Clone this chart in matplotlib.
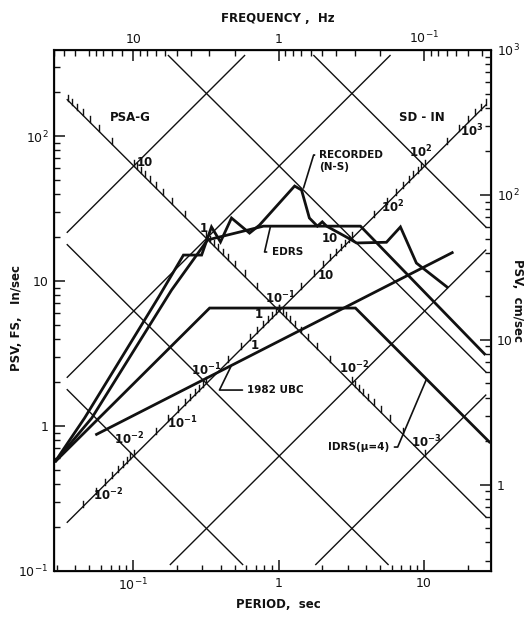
import numpy as np
import matplotlib
matplotlib.use("Agg")
import matplotlib.pyplot as plt

plt.rcParams["font.family"] = ["DejaVu Sans"]
plt.rcParams["mathtext.default"] = "regular"

G = 386.09          # gravity, in/s^2
IN_TO_CM = 2.54

# Pseudo-velocity spectra: period (s) and PSV (in/s)
recorded_T = [0.029, 0.0464, 0.150, 0.222, 0.296, 0.346, 0.399, 0.475, 0.632, 0.740,
              1.29, 1.44, 1.63, 1.85, 2.0, 2.14, 2.93, 3.44, 5.52, 6.89, 8.87, 14.7]
recorded_V = [0.565, 1.135, 7.76, 15.1, 15.1, 23.6, 18.6, 27.2, 21.4, 24.3,
              45.2, 42.4, 27.2, 23.9, 25.6, 23.9, 20.1, 18.3, 18.5, 23.6, 13.3, 8.95]

edrs_T = [0.029, 0.052, 0.184, 0.325, 0.789, 3.66, 26.5]
edrs_V = [0.565, 1.135, 8.67, 19.2, 23.9, 23.9, 3.09]

idrs_T = [0.029, 0.336, 3.38, 28.6]
idrs_V = [0.565, 6.51, 6.51, 0.764]

ubc_T = [0.055, 15.95]
ubc_V = [0.867, 15.85]

# Tripartite grid levels
accel_levels_g = [1e-3, 1e-2, 1e-1, 1.0, 10.0]
accel_labels = ["$10^{-3}$", "$10^{-2}$", "$10^{-1}$", "1", "10"]
disp_levels_in = [1e-2, 1e-1, 1.0, 10.0, 100.0]
disp_labels_in = ["$10^{-2}$", "$10^{-1}$", "1", "10", "$10^{2}$"]
disp_levels_cm = [1e-2, 1e-1, 1.0, 10.0, 100.0, 1000.0]
disp_labels_cm = ["$10^{-2}$", "$10^{-1}$", "1", "10", "$10^{2}$", "$10^{3}$"]

# Axis tick labels
period_ticks = [0.1, 1, 10]
period_labels = ["$10^{-1}$", "1", "10"]
psv_ticks = [0.1, 1, 10, 100]
psv_labels = ["$10^{-1}$", "1", "10", "$10^{2}$"]
freq_ticks = [10, 1, 0.1]
freq_labels = ["10", "1", "$10^{-1}$"]
freq_minor = [35, 30, 25, 20, 18, 16, 14, 12,
              9, 8, 7, 6, 5, 4, 3, 2,
              0.9, 0.8, 0.7, 0.6, 0.5, 0.4, 0.3, 0.2,
              0.09, 0.08, 0.07, 0.06, 0.05, 0.04]
cm_ticks = [1, 10, 100, 1000]
cm_labels = ["1", "10", "$10^{2}$", "$10^{3}$"]

XLIM = (0.0286, 28.9)
YLIM = (0.1, 392.0)
BOX = (0.035, 26.8, 0.11, 362.0)   # extent of the diagonal grid

W, H = 524, 624
fig = plt.figure(figsize=(W / 100, H / 100), dpi=100)
ax = fig.add_axes([54 / W, 53 / H, 437 / W, 521 / H])
ax.set_xscale("log")
ax.set_yscale("log")
ax.set_xlim(*XLIM)
ax.set_ylim(*YLIM)

TH, GL, FR = 2.0, 1.0, 1.5
ink = "#111111"


def clip_line(slope, c):
    """Endpoints (log T) of logV = slope*logT + c inside BOX."""
    lt0, lt1 = np.log10(BOX[0]), np.log10(BOX[1])
    lv0, lv1 = np.log10(BOX[2]), np.log10(BOX[3])
    if slope > 0:
        a, b = max(lt0, lv0 - c), min(lt1, lv1 - c)
    else:
        a, b = max(lt0, c - lv1), min(lt1, c - lv0)
    return a, b


def accel_line(a):
    c = np.log10(a * G / (2 * np.pi))
    lo, hi = clip_line(1, c)
    T = np.array([10 ** lo, 10 ** hi])
    return T, a * G * T / (2 * np.pi)


def disp_line(d):
    c = np.log10(2 * np.pi * d)
    lo, hi = clip_line(-1, c)
    T = np.array([10 ** lo, 10 ** hi])
    return T, 2 * np.pi * d / T


for a in accel_levels_g:
    T, V = accel_line(a)
    ax.plot(T, V, color=ink, lw=GL, solid_capstyle="butt")
for d in disp_levels_in:
    T, V = disp_line(d)
    ax.plot(T, V, color=ink, lw=GL, solid_capstyle="butt")


def cross(a, d):
    """Point where acceleration a (g) meets displacement d (in)."""
    T = 2 * np.pi * np.sqrt(d / (a * G))
    return T, np.sqrt(a * G * d)


tick_up = 10 ** (6 / 145)
lab = dict(ha="center", va="center", fontsize=8.5, fontweight="bold", color=ink)

# Acceleration scale carried on the 1-in displacement line
for dec in [1e-3, 1e-2, 1e-1, 1, 10]:
    for k in range(1, 10):
        T, V = cross(k * dec, 1.0)
        if BOX[0] < T < BOX[1] and BOX[2] < V < BOX[3]:
            ax.plot([T, T], [V, V * tick_up], color=ink, lw=GL)

acc_offsets = {10.0: (11, 3), 1.0: (-3, 10), 1e-1: (1, 13), 1e-2: (2, 15), 1e-3: (2, 14)}
for a, s in zip(accel_levels_g, accel_labels):
    ax.annotate(s, cross(a, 1.0), xytext=acc_offsets[a], textcoords="offset pixels", **lab)

# Displacement scale carried on the 0.1 g line, inches above and centimetres below
for dec in [1e-3, 1e-2, 1e-1, 1, 10, 100]:
    for k in range(1, 10):
        T, V = cross(0.1, k * dec)
        if 0.04 < T < BOX[1] and BOX[2] < V < BOX[3]:
            ax.plot([T, T], [V, V * tick_up], color=ink, lw=GL)

din_offsets = {1e-2: (-5, 17), 1e-1: (0, 13), 1.0: (-20, -4), 10.0: (-22, 0), 100.0: (-4, 14)}
for d, s in zip(disp_levels_in, disp_labels_in):
    ax.annotate(s, cross(0.1, d), xytext=din_offsets[d], textcoords="offset pixels", **lab)
dcm_offsets = {1e-2: (4, -10), 1e-1: (5, -10), 1.0: (5, -5), 10.0: (3, -8),
               100.0: (-2, -12), 1000.0: (4, -8)}
for d, s in zip(disp_levels_cm, disp_labels_cm):
    ax.annotate(s, cross(0.1, d / IN_TO_CM), xytext=dcm_offsets[d],
                textcoords="offset pixels", **lab)

# Spectra
for T, V in [(recorded_T, recorded_V), (edrs_T, edrs_V), (idrs_T, idrs_V), (ubc_T, ubc_V)]:
    ax.plot(T, V, color=ink, lw=TH, solid_joinstyle="miter", solid_capstyle="butt")

# Region and curve labels
big = dict(fontsize=8.5, fontweight="bold", color=ink)
small = dict(fontsize=7.5, fontweight="bold", color=ink)
ax.text(0.128, 0.871, "PSA-G", transform=ax.transAxes, ha="left", va="center", **big)
ax.text(0.789, 0.871, "SD - IN", transform=ax.transAxes, ha="left", va="center", **big)


def leader(text, xy, xytext, angle_b, ha="left", angle_a=0):
    ax.annotate(text, xy=xy, xytext=xytext, ha=ha, va="center",
                arrowprops=dict(arrowstyle="-", color=ink, lw=1.2,
                                connectionstyle=f"angle,angleA={angle_a},angleB={angle_b},rad=0",
                                shrinkA=1.5, shrinkB=0), **small)


leader("RECORDED", (1.486, 43.8), (1.913, 74.0), 73)
ax.annotate("(N-S)", (1.913, 74.0), xytext=(0, -12), textcoords="offset pixels",
            ha="left", va="center", **small)
leader("EDRS", (0.881, 23.9), (0.895, 15.85), 77)
leader("1982 UBC", (0.475, 2.62), (0.61, 1.77), 64)
leader("IDRS(μ=4)", (10.4, 2.1), (5.8, 0.716), 67, ha="right")

# Frame, period and PSV (in/s) scales
for s in ax.spines.values():
    s.set_linewidth(FR)
    s.set_color(ink)
ax.set_xticks(period_ticks)
ax.set_xticklabels(period_labels)
ax.set_yticks(psv_ticks)
ax.set_yticklabels(psv_labels)
ax.tick_params(which="major", direction="in", length=8, width=1.1, labelsize=9,
               colors=ink, pad=4)
ax.tick_params(which="minor", direction="in", length=4.5, width=1.0, colors=ink)
ax.tick_params(axis="both", which="both", top=False, right=False)

# Frequency scale on top
axf = ax.twiny()
axf.set_xscale("log")
axf.set_xlim(1 / XLIM[0], 1 / XLIM[1])
axf.set_xticks(freq_ticks)
axf.set_xticklabels(freq_labels)
axf.set_xticks(freq_minor, minor=True)
axf.tick_params(which="major", direction="in", length=8, width=1.1, labelsize=9,
                colors=ink, pad=3)
axf.tick_params(which="minor", direction="in", length=4.5, width=1.0, colors=ink,
                labeltop=False)

# PSV in cm/s on the right
axc = ax.twinx()
axc.set_yscale("log")
axc.set_ylim(YLIM[0] * IN_TO_CM, YLIM[1] * IN_TO_CM)
axc.set_yticks(cm_ticks)
axc.set_yticklabels(cm_labels)
axc.tick_params(which="major", direction="in", length=8, width=1.1, labelsize=9,
                colors=ink, pad=4)
axc.tick_params(which="minor", direction="in", length=4.5, width=1.0, colors=ink)

# Axis titles
title = dict(fontsize=8.5, fontweight="bold", color=ink, ha="center", va="center")
fig.text(278 / W, 1 - 18 / H, "FREQUENCY ,  Hz", **title)
fig.text(278 / W, 1 - 604 / H, "PERIOD,  sec", **title)
fig.text(17 / W, 1 - 318 / H, "PSV, FS,   In/sec", rotation=90, **title)
fig.text(518 / W, 1 - 300 / H, "PSV,  cm/sec", rotation=-90, **title)

fig.savefig("out.png", dpi=100)
